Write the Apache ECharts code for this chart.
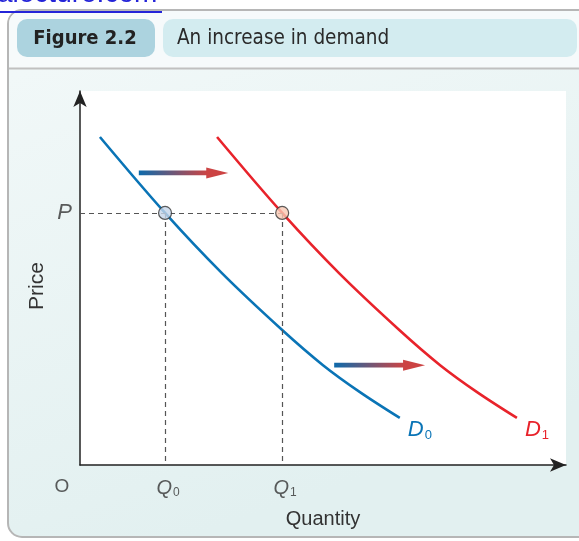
<!DOCTYPE html>
<html><head><meta charset="utf-8">
<script src="https://cdn.jsdelivr.net/npm/echarts@6/dist/echarts.min.js"></script>
<style>html,body{margin:0;padding:0;background:#fff;overflow:hidden}#c{width:579px;height:541px;}</style>
</head><body><div id="c"></div>
<script>
// ---- data ----
const quantityD0 = [4.1, 17.5, 29.2, 41.6, 50.0, 57.6, 65.8];
const priceD0    = [87.7, 67.4, 51.3, 36.1, 26.7, 19.5, 12.6];
const quantityD1 = [28.2, 41.6, 53.3, 65.7, 74.1, 81.7, 89.9];
const priceD1    = [87.7, 67.4, 51.3, 36.1, 26.7, 19.5, 12.6];
const equilibriumPrice = 67.4;
const equilibriumQuantities = [17.5, 41.6];
const shiftArrowStart = [[12.1, 78.1], [52.3, 26.7]];
const shiftArrowEnd   = [[30.5, 78.1], [71.0, 26.7]];
const curveNames = ['D0', 'D1'];
const tickLabels = ['O', 'Q0', 'Q1', 'P'];
const figureNumber = 'Figure 2.2';
const figureTitle = 'An increase in demand';
const xAxisName = 'Quantity';
const yAxisName = 'Price';
const watermark = 'alecture.com';

// ---- chart ----
const chart = echarts.init(document.getElementById('c'), null, {renderer: 'canvas'});
const FONT = 'Liberation Sans, Arial, sans-serif';
const HFONT = 'DejaVu Sans Condensed, DejaVu Sans, sans-serif';
const pair = (xs, ys) => xs.map((x, i) => [x, ys[i]]);

const subRich = (color) => ({
  i: {fontFamily: FONT, fontStyle: 'italic', fontSize: 22, color: color},
  s: {fontFamily: FONT, fontSize: 13, color: color, padding: [12, 0, 0, 1]}
});
const tickRich = {
  i: {fontFamily: FONT, fontStyle: 'italic', fontSize: 20, color: '#333'},
  s: {fontFamily: FONT, fontSize: 12, color: '#333', padding: [10, 0, 0, 1]},
  r: {fontFamily: FONT, fontSize: 19, color: '#333'}
};
const fmtSub = (name) => name.length > 1 ? '{i|' + name[0] + '}{s|' + name.slice(1) + '}' : (name === 'O' ? '{r|O}' : '{i|' + name + '}');

const option = {
  animation: false,
  grid: {left: 80, right: 13, top: 91, bottom: 76, show: true, backgroundColor: '#ffffff', borderWidth: 0},
  xAxis: {
    type: 'value', min: 0, max: 100, z: 4,
    name: xAxisName, nameLocation: 'middle', nameGap: 44,
    nameTextStyle: {fontFamily: FONT, fontSize: 20, color: '#333'},
    axisLine: {lineStyle: {color: '#222', width: 1.5}, symbol: ['none', 'arrow'], symbolSize: [10, 16]},
    axisTick: {show: false}, axisLabel: {show: false}, splitLine: {show: false}
  },
  yAxis: {
    type: 'value', min: 0, max: 100, z: 4,
    name: yAxisName, nameLocation: 'middle', nameGap: 32, nameRotate: 90,
    nameTextStyle: {fontFamily: FONT, fontSize: 21, color: '#333', padding: [0, 0, 0, -16]},
    axisLine: {lineStyle: {color: '#222', width: 1.5}, symbol: ['none', 'arrow'], symbolSize: [10, 16]},
    axisTick: {show: false}, axisLabel: {show: false}, splitLine: {show: false}
  },
  graphic: [
    // outer frame + body
    {type: 'rect', z: -100, silent: true,
      shape: {x: 8, y: 10, width: 600, height: 527, r: 14},
      style: {fill: new echarts.graphic.LinearGradient(0, 0, 0.3, 1, [{offset: 0, color: '#f3f9f9'}, {offset: 1, color: '#e2f0f0'}]), stroke: '#b6b6b6', lineWidth: 2}},
    {type: 'rect', z: -99, silent: true,
      shape: {x: 9, y: 11, width: 600, height: 57, r: [13, 0, 0, 0]},
      style: {fill: '#f6fafb'}},
    {type: 'line', z: -98, silent: true,
      shape: {x1: 9, y1: 68.5, x2: 579, y2: 68.5},
      style: {stroke: '#c0c0c0', lineWidth: 2}},
    {type: 'rect', z: -97, silent: true,
      shape: {x: 17, y: 19, width: 138, height: 38, r: 10}, style: {fill: '#acd3df'}},
    {type: 'rect', z: -97, silent: true,
      shape: {x: 163, y: 19, width: 414, height: 38, r: 10}, style: {fill: '#d3ecf0'}},
    {type: 'text', z: 10, silent: true,
      style: {x: 85, y: 39, text: figureNumber, fill: '#222', font: 'bold 20px ' + HFONT, textAlign: 'center', textVerticalAlign: 'middle'}},
    {type: 'text', z: 10, silent: true,
      style: {x: 177, y: 39, text: figureTitle, fill: '#2a2a2a', font: '20.5px ' + HFONT, textAlign: 'left', textVerticalAlign: 'middle'}},
    // watermark link
    {type: 'text', z: 20, silent: true,
      style: {x: -3, y: 8, text: watermark, fill: '#2424d8', font: '28px ' + FONT, textAlign: 'left', textVerticalAlign: 'bottom'}},
    {type: 'rect', z: 20, silent: true,
      shape: {x: 0, y: 11, width: 162, height: 2}, style: {fill: '#2424d8'}}
  ],
  series: [
    {
      name: 'guides', type: 'line', data: [], silent: true,
      markLine: {
        silent: true, symbol: ['none', 'none'], label: {show: false},
        lineStyle: {color: '#555', width: 1.2, type: [5, 4]},
        data: [
          [{coord: [0, equilibriumPrice]}, {coord: [equilibriumQuantities[1], equilibriumPrice]}],
          [{coord: [equilibriumQuantities[0], equilibriumPrice]}, {coord: [equilibriumQuantities[0], 0]}],
          [{coord: [equilibriumQuantities[1], equilibriumPrice]}, {coord: [equilibriumQuantities[1], 0]}]
        ]
      }
    },
    {
      name: curveNames[0], type: 'line', smooth: 0.35, symbol: 'none',
      data: pair(quantityD0, priceD0),
      lineStyle: {color: '#0a74b6', width: 2.6},
      endLabel: {show: true, formatter: () => fmtSub(curveNames[0]), rich: subRich('#0a74b6'), offset: [0, 12]}
    },
    {
      name: curveNames[1], type: 'line', smooth: 0.35, symbol: 'none',
      data: pair(quantityD1, priceD1),
      lineStyle: {color: '#e8232b', width: 2.6},
      endLabel: {show: true, formatter: () => fmtSub(curveNames[1]), rich: subRich('#e8232b'), offset: [0, 12]}
    },
    {
      name: 'shift', type: 'custom',
      data: shiftArrowStart.map((s, i) => [s[0], s[1], shiftArrowEnd[i][0], shiftArrowEnd[i][1]]),
      encode: {x: [0, 2], y: [1, 3]},
      renderItem: function (params, api) {
        const s = api.coord([api.value(0), api.value(1)]);
        const e = api.coord([api.value(2), api.value(3)]);
        const head = 22, hw = 5.5, th = 4.8;
        const bx = e[0] - head;
        return {type: 'group', children: [
          {type: 'rect', shape: {x: s[0], y: s[1] - th / 2, width: bx - s[0] + 1, height: th},
            style: {fill: new echarts.graphic.LinearGradient(0, 0, 1, 0, [{offset: 0, color: '#0d6aab'}, {offset: 1, color: '#cc4444'}])}},
          {type: 'polygon', shape: {points: [[bx, s[1] - hw], [e[0], e[1]], [bx, s[1] + hw]]},
            style: {fill: '#cc4343'}}
        ]};
      },
      z: 3
    },
    {
      name: 'equilibria', type: 'scatter', symbol: 'circle', symbolSize: 13, z: 5,
      data: [
        {value: [equilibriumQuantities[0], equilibriumPrice], itemStyle: {color: '#c6d6ea'}},
        {value: [equilibriumQuantities[1], equilibriumPrice], itemStyle: {color: '#f7c8b3'}}
      ],
      itemStyle: {borderColor: '#333', borderWidth: 1.2}
    },
    {
      name: 'ticks', type: 'scatter', symbolSize: 0, silent: true, z: 6,
      data: [
        {value: [0, 0], label: {position: 'bottom', distance: 12, offset: [-18, 0]}, name: tickLabels[0]},
        {value: [equilibriumQuantities[0], 0], label: {position: 'bottom', distance: 12, offset: [3, 0]}, name: tickLabels[1]},
        {value: [equilibriumQuantities[1], 0], label: {position: 'bottom', distance: 12, offset: [3, 0]}, name: tickLabels[2]},
        {value: [0, equilibriumPrice], label: {position: 'left', distance: 8, offset: [0, 0], rich: {i: {fontFamily: FONT, fontStyle: 'italic', fontSize: 22, color: '#333'}}}, name: tickLabels[3]}
      ],
      label: {show: true, formatter: (p) => fmtSub(p.name), rich: tickRich}
    }
  ]
};
chart.setOption(option);
</script>
</body></html>
